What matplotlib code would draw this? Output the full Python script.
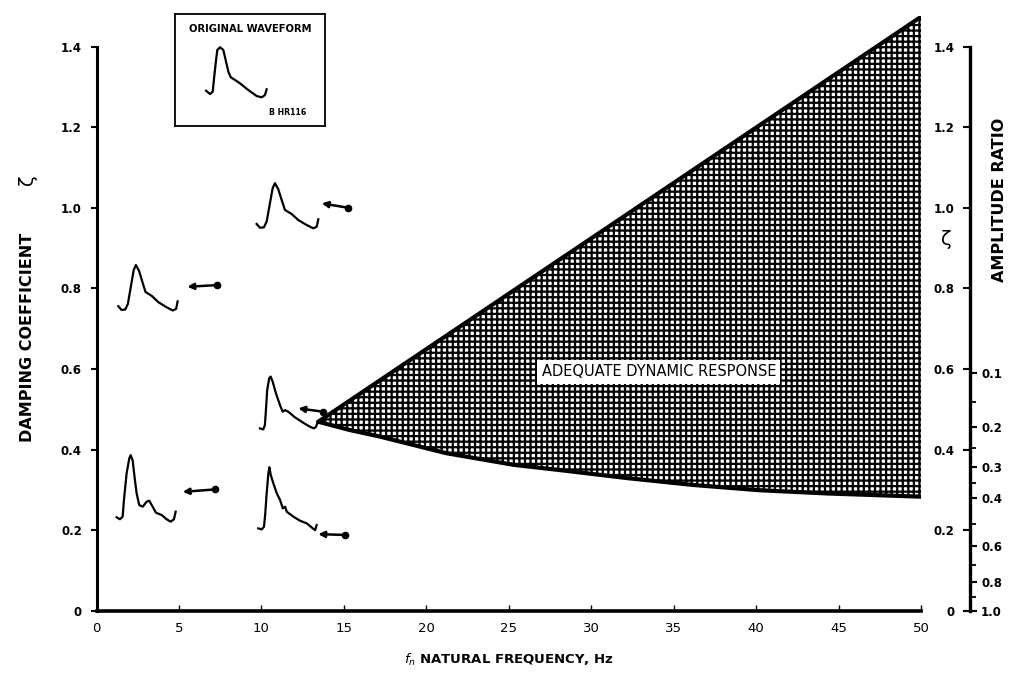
import numpy as np
import matplotlib
matplotlib.use("Agg")
from matplotlib import pyplot as plt

# frequency (Hz) and damping coefficient ticks
freq_ticks = [0, 5, 10, 15, 20, 25, 30, 35, 40, 45, 50]
zeta_ticks = [0, 0.2, 0.4, 0.6, 0.8, 1.0, 1.2, 1.4]
zeta_labels = ["0", "0.2", "0.4", "0.6", "0.8", "1.0", "1.2", "1.4"]
amp_major = [0.1, 0.2, 0.3, 0.4, 0.6, 0.8, 1.0]
amp_minor = [0.15, 0.25, 0.35, 0.5, 0.7, 0.9]

# adequate dynamic response region
upper_x = [13.45, 50.0]
upper_zeta = [0.469, 1.474]
lower_x = [13.45, 15.3, 17.2, 21.2, 25.3, 28.1, 32.2, 36.2, 40.2, 44.3, 50.0]
lower_zeta = [0.469, 0.449, 0.432, 0.391, 0.362, 0.349, 0.329, 0.312, 0.299, 0.291, 0.283]

# sketched waveforms, shapes in a unit box
peak_u = [0, 0.054, 0.118, 0.162, 0.216, 0.26, 0.297, 0.351, 0.406, 0.459, 0.568, 0.675, 0.812, 0.919, 0.974, 1.0]
peak_v = [0.096, 0.013, 0.022, 0.147, 0.556, 0.889, 1.0, 0.867, 0.629, 0.407, 0.318, 0.184, 0.073, 0.0, 0.036, 0.2]
bump_u = [0, 0.056, 0.102, 0.124, 0.169, 0.214, 0.237, 0.271, 0.31, 0.339, 0.383, 0.441, 0.508, 0.553, 0.61, 0.666, 0.763, 0.847, 0.915, 0.971, 1.0]
bump_v = [0.066, 0.036, 0.075, 0.325, 0.724, 0.949, 1.0, 0.925, 0.625, 0.426, 0.25, 0.225, 0.3, 0.315, 0.225, 0.135, 0.1, 0.036, 0.0, 0.036, 0.15]
notch_u = [0, 0.058, 0.087, 0.105, 0.127, 0.162, 0.187, 0.222, 0.279, 0.349, 0.396, 0.436, 0.494, 0.611, 0.756, 0.873, 0.942, 0.977, 1.0]
notch_v = [0.019, 0.0, 0.082, 0.367, 0.747, 0.97, 1.0, 0.905, 0.684, 0.462, 0.335, 0.365, 0.335, 0.228, 0.125, 0.049, 0.019, 0.049, 0.114]
sharp_u = [0, 0.058, 0.098, 0.12, 0.144, 0.173, 0.19, 0.214, 0.258, 0.317, 0.374, 0.421, 0.46, 0.489, 0.603, 0.717, 0.832, 0.935, 0.974, 1.0]
sharp_v = [0.027, 0.011, 0.053, 0.266, 0.585, 0.904, 1.0, 0.877, 0.745, 0.585, 0.478, 0.346, 0.372, 0.292, 0.213, 0.149, 0.107, 0.027, 0.0, 0.08]
orig_u = [0, 0.066, 0.11, 0.132, 0.165, 0.186, 0.231, 0.285, 0.33, 0.368, 0.408, 0.461, 0.56, 0.697, 0.835, 0.918, 0.972, 1.0]
orig_v = [0.132, 0.066, 0.112, 0.38, 0.746, 0.946, 1.0, 0.946, 0.712, 0.512, 0.4, 0.36, 0.28, 0.146, 0.026, 0.0, 0.046, 0.16]

sketch_shapes = [(peak_u, peak_v), (peak_u, peak_v), (bump_u, bump_v), (notch_u, notch_v), (sharp_u, sharp_v)]
sketch_x0 = [1.32, 9.71, 1.22, 9.91, 9.81]
sketch_x1 = [4.92, 13.45, 4.80, 13.39, 13.35]
sketch_z0 = [0.745, 0.949, 0.221, 0.450, 0.200]
sketch_z1 = [0.858, 1.061, 0.386, 0.581, 0.356]

arrow_head_x = [5.51, 13.66, 5.23, 12.24, 13.45]
arrow_head_z = [0.804, 1.011, 0.295, 0.502, 0.190]
arrow_tail_x = [7.29, 15.27, 7.19, 13.74, 15.07]
arrow_tail_z = [0.808, 1.000, 0.301, 0.494, 0.188]


def zeta_from_ratio(r):
    # amplitude ratio of successive peaks -> damping coefficient
    lr = np.log(np.asarray(r, dtype=float))
    return -lr / np.sqrt(np.pi ** 2 + lr ** 2)


plt.rcParams['hatch.linewidth'] = 1.6
fig = plt.figure(figsize=(10.09, 6.89), dpi=100)

ax_bottom = 1 - 610.7 / 689
ax_top = 1 - 16.4 / 689
ax = fig.add_axes([96.5 / 1009, ax_bottom, (921 - 96.5) / 1009, ax_top - ax_bottom])
ax.set_xlim(0, 50)
ax.set_ylim(0, 1.475)

for side in ['top', 'right']:
    ax.spines[side].set_visible(False)
ax.spines['left'].set_bounds(0, 1.4)
ax.spines['left'].set_linewidth(2.2)
ax.spines['bottom'].set_linewidth(2.6)
ax.spines['bottom'].set_bounds(0, 50)

ax.set_xticks(freq_ticks)
ax.set_xticklabels([str(f) for f in freq_ticks], fontsize=9.5)
ax.tick_params(axis='x', direction='in', length=4, width=1, pad=8)
ax.set_yticks(zeta_ticks)
ax.set_yticklabels(zeta_labels, fontsize=8.5, fontweight='bold')
ax.tick_params(axis='y', direction='out', length=4.5, width=1.5, pad=6)

# region
reg_x = upper_x + lower_x[::-1]
reg_z = upper_zeta + lower_zeta[::-1]
ax.fill(reg_x, reg_z, facecolor='white', edgecolor='black', hatch='+++', lw=0)
ax.plot(upper_x, upper_zeta, color='black', lw=3, solid_capstyle='round')
ax.plot(lower_x, lower_zeta, color='black', lw=3, solid_capstyle='round')
ax.text(34.1, 0.593, 'ADEQUATE DYNAMIC RESPONSE', ha='center', va='center',
        fontsize=10.5, bbox=dict(facecolor='white', edgecolor='none', pad=3))

# waveform sketches and arrows
for (su, sv), x0, x1, z0, z1 in zip(sketch_shapes, sketch_x0, sketch_x1, sketch_z0, sketch_z1):
    xs = x0 + np.array(su) * (x1 - x0)
    zs = z0 + np.array(sv) * (z1 - z0)
    ax.plot(xs, zs, color='black', lw=1.6)

for hx, hz, tx, tz in zip(arrow_head_x, arrow_head_z, arrow_tail_x, arrow_tail_z):
    ax.annotate('', xy=(hx, hz), xytext=(tx, tz),
                arrowprops=dict(arrowstyle='-|>', color='black', lw=1.8,
                                mutation_scale=9, shrinkA=0, shrinkB=0))
    ax.plot([tx], [tz], 'o', color='black', ms=4.5)

# right hand axis: zeta on the left side, amplitude ratio on the right
axr = fig.add_axes([970 / 1009, ax_bottom, 1e-5, ax_top - ax_bottom])
axr.set_ylim(0, 1.475)
axr.patch.set_visible(False)
axr.set_xticks([])
for side in ['top', 'bottom', 'right']:
    axr.spines[side].set_visible(False)
axr.spines['left'].set_bounds(0, 1.4)
axr.spines['left'].set_linewidth(2.4)
axr.set_yticks(zeta_ticks)
axr.set_yticklabels(zeta_labels[:1] + zeta_labels[1:], fontsize=8.5, fontweight='bold')
axr.tick_params(axis='y', direction='out', length=5, width=1.5, pad=6)

axa = axr.twinx()
axa.set_ylim(0, 1.475)
for side in ['top', 'bottom', 'left', 'right']:
    axa.spines[side].set_visible(False)
axa.set_yticks(zeta_from_ratio(amp_major))
axa.set_yticklabels(["%.1f" % r for r in amp_major], fontsize=8.5, fontweight='bold')
axa.set_yticks(zeta_from_ratio(amp_minor), minor=True)
axa.tick_params(axis='y', which='major', direction='out', length=5, width=1.5, pad=3)
axa.tick_params(axis='y', which='minor', direction='out', length=4, width=1.3)

# labels
fig.text(1000 / 1009, 1 - 200 / 689, 'AMPLITUDE RATIO', rotation=90, ha='center', va='center',
         fontsize=11.5, fontweight='bold')
fig.text(946 / 1009, 1 - 240 / 689, 'ζ', ha='center', va='center', fontsize=14)
fig.text(28 / 1009, 1 - 337 / 689, 'DAMPING COEFFICIENT', rotation=90, ha='center', va='center',
         fontsize=11.5, fontweight='bold')
fig.text(28 / 1009, 1 - 180 / 689, 'ζ', rotation=90, ha='center', va='center', fontsize=14)
fig.text(509 / 1009, 1 - 660 / 689, r'$f_n$ NATURAL FREQUENCY, Hz', ha='center', va='center',
         fontsize=9.5, fontweight='bold')

# inset with original waveform
axi = fig.add_axes([175 / 1009, 1 - 126 / 689, 150 / 1009, 112 / 689])
axi.set_xlim(0, 1)
axi.set_ylim(0, 1)
axi.set_xticks([])
axi.set_yticks([])
for s in axi.spines.values():
    s.set_linewidth(1.3)
axi.plot(0.207 + np.array(orig_u) * 0.404, 0.256 + np.array(orig_v) * 0.447, color='black', lw=1.6)
axi.text(0.5, 0.87, 'ORIGINAL WAVEFORM', ha='center', va='center', fontsize=7.2, fontweight='bold')
axi.text(0.75, 0.12, 'B HR116', ha='center', va='center', fontsize=5.6, fontweight='bold')

fig.savefig('out.png', dpi=100)
